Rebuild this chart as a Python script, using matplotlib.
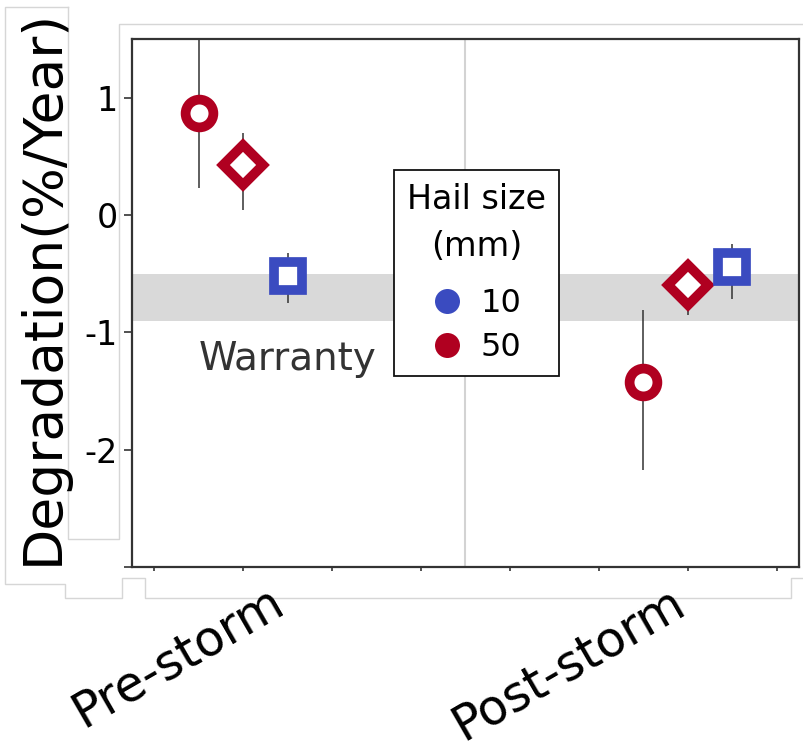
"""Hail-storm degradation rates: pre- vs post-storm, with warranty band."""

import matplotlib

matplotlib.use("Agg")
import matplotlib.pyplot as plt
from matplotlib.lines import Line2D
from matplotlib.transforms import blended_transform_factory

# ---------------------------------------------------------------------------
# Data
# ---------------------------------------------------------------------------
periods = ["Pre-storm", "Post-storm"]

series_markers = ["o", "D", "s"]
series_hail = [50, 50, 10]
series_dodge = [-0.1, 0.0, 0.1]

# degradation rate (%/year) per series, one value per period
rate_mid = [
    [0.87, -1.42],
    [0.43, -0.60],
    [-0.52, -0.44],
]
rate_low = [
    [0.23, -2.17],
    [0.04, -0.85],
    [-0.75, -0.72],
]
rate_high = [
    [1.60, -0.81],
    [0.70, -0.42],
    [-0.32, -0.25],
]

warranty_band = (-0.9, -0.5)
hail_sizes = [10, 50]
hail_colors = {10: "#3a4bc0", 50: "#b00020"}

y_ticks = [-3, -2, -1, 0, 1]
y_ticklabels = ["", "-2", "-1", "0", "1"]

# ---------------------------------------------------------------------------
# Figure
# ---------------------------------------------------------------------------
W, H = 804, 750
plt.rcParams["font.family"] = ["DejaVu Sans"]
plt.rcParams["axes.unicode_minus"] = False

fig = plt.figure(figsize=(W / 100, H / 100), dpi=100)
ax = fig.add_axes([132 / W, 1 - 567 / H, 667 / W, 528 / H])


def px(x, y):
    return x / W, 1 - y / H


# light grey layout frames left over from the original composition
for path in (
    [(68, 7), (5, 7), (5, 584), (65, 584), (65, 598), (122, 598), (122, 578),
     (145, 578), (145, 598), (791, 598), (791, 578), (804, 578)],
    [(68, 7), (68, 539), (119, 539), (119, 24), (804, 24)],
):
    xs, ys = zip(*[px(x, y) for x, y in path])
    fig.add_artist(Line2D(xs, ys, color="#d6d6d6", lw=1.0, zorder=0))

ax.axhspan(*warranty_band, color="#d9d9d9", lw=0, zorder=0)
ax.axvline(0.5, color="#d3d3d3", lw=1.5, zorder=0.5)

for marker, hail, dodge, mid, lo, hi in zip(
    series_markers, series_hail, series_dodge, rate_mid, rate_low, rate_high
):
    xs = [i + dodge for i in range(len(periods))]
    ax.vlines(xs, lo, hi, color="#333333", lw=1.1, zorder=2)
    ax.plot(xs, mid, ls="none", marker=marker, ms=20, mew=7,
            mec=hail_colors[hail], mfc="white", zorder=3)

ax.text(0.1, -1.32, "Warranty", fontsize=28, color="#333333",
        ha="center", va="baseline", zorder=4)

ax.set_xlim(-0.25, 1.25)
ax.set_ylim(-3, 1.5)
ax.set_yticks(y_ticks)
ax.set_yticklabels(y_ticklabels, fontsize=24)
ax.set_xticks([-0.2 + 0.2 * k for k in range(8)])
ax.set_xticklabels([])
ax.tick_params(axis="y", length=6, width=1.2, pad=4, color="#333333")
ax.tick_params(axis="x", length=3, width=1.2, color="#333333")
for sp in ax.spines.values():
    sp.set_color("#333333")
    sp.set_linewidth(1.6)

# rotated category labels
trans = blended_transform_factory(ax.transData, ax.transAxes)
label_shift = [0.11, 0.01]
for i, (name, shift) in enumerate(zip(periods, label_shift)):
    ax.text(i + shift, -0.02, name, transform=trans, fontsize=35,
            rotation=30, ha="right", va="top")

fig.text(43 / W, 1 - 287 / H, "Degradation(%/Year)", fontsize=38.5,
         rotation=90, ha="center", va="center")

handles = [
    Line2D([], [], ls="none", marker="o", ms=18, mec="none",
           mfc=hail_colors[s], label=str(s))
    for s in hail_sizes
]
leg = ax.legend(handles=handles, title="Hail size\n(mm)", fontsize=23,
                title_fontsize=24, loc="upper left",
                bbox_to_anchor=px(394, 170), bbox_transform=fig.transFigure,
                borderaxespad=0, fancybox=False, framealpha=1,
                edgecolor="#111111", handlelength=1.0, handletextpad=0.55,
                labelspacing=0.4, borderpad=0.4)
leg.get_frame().set_linewidth(1.3)
leg.get_title().set_multialignment("center")
leg.get_title().set_linespacing(1.55)
leg._legend_box.sep = 18
leg.set_zorder(5)

fig.savefig("out.png", dpi=100)
